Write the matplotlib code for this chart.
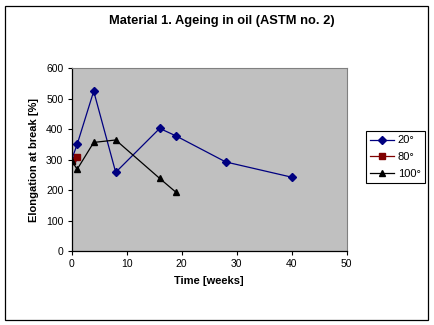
import matplotlib
matplotlib.use("Agg")
from matplotlib import pyplot as plt
from matplotlib.patches import Rectangle

plt.rcParams['font.family'] = ['Liberation Sans', 'DejaVu Sans']

# data
weeks_20 = [0, 1, 4, 8, 16, 19, 28, 40]
elong_20 = [300, 350, 524, 258, 402, 377, 292, 242]
weeks_80 = [0, 1]
elong_80 = [296, 309]
weeks_100 = [0, 1, 4, 8, 16, 19]
elong_100 = [295, 268, 356, 364, 238, 192]
labels = ['20°', '80°', '100°']

fig = plt.figure(figsize=(4.35, 3.25), dpi=100)
# outer chart border
fig.patches.append(Rectangle((5.5 / 435, 1 - 319.5 / 325), 423 / 435, 314 / 325,
                             transform=fig.transFigure, fill=False,
                             edgecolor='black', linewidth=0.9))

ax = fig.add_axes([71.7 / 435, 1 - 251 / 325, 275 / 435, 183 / 325])
ax.set_facecolor('#c0c0c0')

ax.plot(weeks_20, elong_20, color='#000080', marker='D', markersize=4, linewidth=0.9, label=labels[0])
ax.plot(weeks_80, elong_80, color='#800000', marker='s', markersize=4.5, linewidth=0.9, label=labels[1])
ax.plot(weeks_100, elong_100, color='black', marker='^', markersize=5, linewidth=0.9, label=labels[2])

ax.set_xlim(0, 50)
ax.set_ylim(0, 600)
ax.set_xticks(range(0, 51, 10))
ax.set_yticks(range(0, 601, 100))
ax.tick_params(direction='out', length=3, width=0.8, labelsize=7.5, pad=3)
for s in ['top', 'right']:
    ax.spines[s].set_color('#808080')
    ax.spines[s].set_linewidth(0.8)
for s in ['left', 'bottom']:
    ax.spines[s].set_linewidth(0.9)
for lab in ax.get_xticklabels() + ax.get_yticklabels():
    lab.set_clip_on(False)

ax.set_xlabel('Time [weeks]', fontsize=8, fontweight='bold', labelpad=5)
ax.set_ylabel('Elongation at break [%]', fontsize=8, fontweight='bold', labelpad=5)
fig.text(222 / 435, 1 - 21 / 325, 'Material 1. Ageing in oil (ASTM no. 2)', ha='center', va='center',
         fontsize=9.3, fontweight='bold')

leg = fig.legend(loc='upper left', bbox_to_anchor=(365.5 / 435, 1 - 131 / 325), fontsize=8,
                 frameon=True, fancybox=False, edgecolor='black', framealpha=1,
                 handlelength=2.2, handletextpad=0.3, borderpad=0.4, labelspacing=0.6,
                 borderaxespad=0)
leg.get_frame().set_linewidth(0.8)

fig.savefig('out.png', dpi=100)
